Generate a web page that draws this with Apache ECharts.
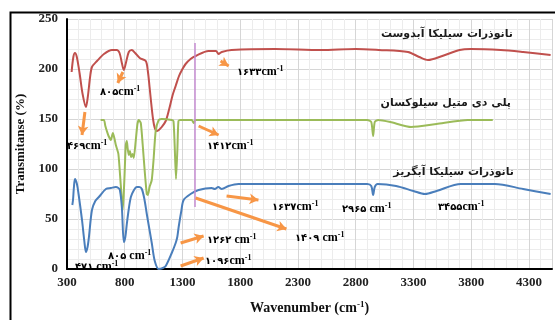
<!DOCTYPE html>
<html>
<head>
<meta charset="utf-8">
<script src="https://cdn.jsdelivr.net/npm/echarts@6/dist/echarts.min.js"></script>
<style>
  html, body { margin: 0; padding: 0; background: #fff; }
  #chart { width: 555px; height: 320px; }
</style>
</head>
<body>
<div id="chart"></div>
<script>
// x ticks
const xTicks = [300, 800, 1300, 1800, 2300, 2800, 3300, 3800, 4300];

// نانوذرات سیلیکا آبدوست (red)
const hydrophilic = [
  [340, 197], [355, 212], [369, 216], [385, 212], [410, 195], [435, 175], [464, 162], [480, 172],
  [500, 192], [516, 202], [560, 208], [620, 215], [689, 219], [730, 219], [755, 216], [775, 206],
  [792, 199], [810, 206], [835, 217], [861, 219], [890, 216], [930, 211], [982, 208], [1000, 198],
  [1015, 182], [1030, 165], [1045, 150], [1060, 141], [1077, 138], [1095, 139], [1120, 142],
  [1155, 148], [1185, 160], [1215, 174], [1241, 183], [1270, 193], [1300, 200], [1327, 205],
  [1370, 210], [1414, 213], [1526, 218], [1590, 218], [1612, 215], [1640, 217],
  [1725, 219], [2100, 220], [2500, 219], [2800, 220], [3000, 219], [3253, 217], [3350, 212],
  [3426, 209], [3550, 213], [3700, 219], [3797, 220], [4056, 219], [4250, 217], [4488, 214]
];

// پلی دی متیل سیلوکسان (green)
const pdms = [
  [591, 149], [620, 149], [632, 143], [645, 138], [660, 133], [680, 129], [690, 133], [697, 136],
  [710, 131], [723, 124], [745, 115], [765, 85], [783, 59], [797, 90], [809, 124], [818, 128],
  [826, 120], [835, 114], [845, 118], [855, 112], [868, 115], [878, 111], [895, 128], [910, 145],
  [922, 149], [939, 146], [955, 125], [975, 95], [991, 75], [1000, 74], [1015, 82], [1034, 89],
  [1050, 110], [1068, 138], [1094, 149], [1120, 150], [1207, 149], [1222, 148], [1232, 125],
  [1244, 90], [1256, 120], [1265, 148], [1280, 149], [1380, 149], [1397, 146], [1412, 149],
  [1500, 149], [2900, 149], [2935, 147], [2951, 133], [2965, 147], [2994, 149], [3100, 147],
  [3280, 142], [3500, 145], [3771, 149], [3987, 149]
];

// نانوذرات سیلیکا آبگریز (blue)
const hydrophobic = [
  [346, 64], [352, 69], [360, 82], [369, 90], [386, 85], [400, 75], [430, 49], [450, 28],
  [464, 17], [478, 22], [490, 32], [516, 59], [545, 68], [576, 72], [637, 80], [680, 81],
  [723, 82], [745, 81], [758, 79], [775, 62], [792, 27], [805, 32], [818, 45], [835, 60],
  [853, 72], [880, 79], [904, 82], [925, 82], [948, 80], [970, 70], [991, 55], [1034, 26],
  [1060, 8], [1094, 0], [1130, 1], [1155, 3], [1207, 16], [1241, 26], [1255, 32], [1267, 42],
  [1290, 58], [1310, 69], [1370, 75], [1440, 79], [1552, 81], [1580, 80], [1610, 82], [1640, 80],
  [1699, 83], [1785, 85], [2000, 85], [2500, 85], [2900, 85], [2935, 83], [2951, 74], [2965, 82],
  [2990, 85], [3150, 83], [3300, 78], [3400, 75], [3500, 78], [3711, 85], [4005, 85], [4250, 80],
  [4488, 75]
];

// arrows [from, to] in data units
const redArrows = [
  [[784, 197], [740, 186]],
  [[455, 157], [430, 134]],
  [[1630, 208], [1700, 203]],
  [[1440, 143], [1613, 134]]
];
const blueArrows = [
  [[1682, 73], [1958, 69]],
  [[1414, 71], [2200, 40]],
  [[1284, 26], [1483, 33]],
  [[1284, 3], [1483, 11]]
];
const markerLine = [[1409, 226], [1409, 62]];

// peak labels: [x px, y px, digits, gap]
const peakLabels = [
  [100, 93, '۸۰۵', ''],
  [67, 147, '۴۶۹', ''],
  [237, 73, '۱۶۳۳', ''],
  [207, 147, '۱۴۱۲', ''],
  [272, 208, '۱۶۳۷', ''],
  [342, 210, '۲۹۶۵', ' '],
  [438, 208, '۳۴۵۵', ''],
  [295, 239, '۱۴۰۹', ' '],
  [207, 241, '۱۲۶۲', ' '],
  [205, 262, '۱۰۹۶', ''],
  [108, 257, '۸۰۵', ' '],
  [75, 268, '۴۷۱', ' ']
];
const seriesLabels = [
  [513, 37, 'نانوذرات سیلیکا آبدوست'],
  [511, 106, 'پلی دی متیل سیلوکسان'],
  [514, 175, 'نانوذرات سیلیکا آبگریز']
];

const chart = echarts.init(document.getElementById('chart'));
const serif = '"Liberation Serif", "DejaVu Serif", serif';
const orange = '#f79646';

const arrowMark = arrows => ({
  silent: true,
  symbol: ['none', 'arrow'],
  symbolSize: [8, 9],
  lineStyle: { color: orange, width: 3, type: 'solid' },
  label: { show: false },
  data: arrows.map(a => [{ coord: a[0] }, { coord: a[1] }])
});

const rich = {
  d: { fontFamily: '"DejaVu Sans", sans-serif', fontSize: 10, fontWeight: 'bold', color: '#222' },
  c: { fontFamily: serif, fontSize: 12, fontWeight: 'bold', color: '#222' },
  s: { fontFamily: serif, fontSize: 8, fontWeight: 'bold', color: '#222', verticalAlign: 'top', padding: [0, 0, 6, 0] }
};

const graphics = [
  {
    type: 'rect', left: 8, top: 10, z: -1, silent: true,
    shape: { width: 600, height: 400 },
    style: { fill: 'none', stroke: '#000', lineWidth: 2 }
  }
];
peakLabels.forEach(p => {
  graphics.push({
    type: 'text', left: p[0], top: p[1] - 8, z: 10, silent: true,
    style: { text: '{d|' + p[2] + '}{c|' + p[3] + 'cm}{s|-1}', rich: rich }
  });
});
seriesLabels.forEach(p => {
  graphics.push({
    type: 'text', right: 555 - p[0], top: p[1] - 8, z: 10, silent: true,
    style: {
      text: p[2], fontFamily: '"DejaVu Sans", sans-serif', fontSize: 11,
      fontWeight: 'bold', fill: '#1a1a1a'
    }
  });
});

const option = {
  animation: false,
  backgroundColor: '#fff',
  grid: { left: 67, right: 1, top: 19, bottom: 46 },
  xAxis: {
    type: 'value',
    min: 300,
    max: 4500,
    interval: 500,
    name: 'Wavenumber (cm{s|-1})',
    nameLocation: 'middle',
    nameGap: 31,
    nameTextStyle: {
      fontFamily: serif, fontSize: 14, fontWeight: 'bold', color: '#111',
      rich: { s: { fontFamily: serif, fontSize: 9, fontWeight: 'bold', color: '#111', verticalAlign: 'top', padding: [0, 0, 7, 0] } }
    },
    axisLine: { show: true, onZero: false, lineStyle: { color: '#000', width: 2 } },
    axisTick: { show: false },
    axisLabel: {
      margin: 7, fontFamily: serif, fontSize: 13, fontWeight: 'bold', color: '#222',
      formatter: v => (xTicks.indexOf(v) >= 0 ? v : '')
    },
    splitLine: { show: true, lineStyle: { color: '#d6d6d6', width: 1 } },
    minorTick: { show: false, splitNumber: 5 },
    minorSplitLine: { show: true, lineStyle: { color: '#ececec', width: 1 } }
  },
  yAxis: {
    type: 'value',
    min: 0,
    max: 250,
    interval: 50,
    name: 'Transmitanse (%)',
    nameLocation: 'middle',
    nameGap: 38,
    nameTextStyle: { fontFamily: serif, fontSize: 13, fontWeight: 'bold', color: '#111' },
    axisLine: { show: true, lineStyle: { color: '#000', width: 2 } },
    axisTick: { show: false },
    axisLabel: { margin: 9, fontFamily: serif, fontSize: 13, fontWeight: 'bold', color: '#222' },
    splitLine: { show: true, lineStyle: { color: '#d6d6d6', width: 1 } },
    minorTick: { show: false, splitNumber: 5 },
    minorSplitLine: { show: true, lineStyle: { color: '#ececec', width: 1 } }
  },
  series: [
    {
      name: 'hydrophilic',
      type: 'line',
      data: hydrophilic,
      smooth: 0.3,
      showSymbol: false,
      lineStyle: { color: '#c0504d', width: 2 },
      markLine: arrowMark(redArrows)
    },
    {
      name: 'pdms',
      type: 'line',
      data: pdms,
      smooth: 0.2,
      showSymbol: false,
      lineStyle: { color: '#9bbb59', width: 2 },
      markLine: {
        silent: true,
        symbol: ['none', 'none'],
        lineStyle: { color: '#c58bd0', width: 1.5, type: 'solid' },
        label: { show: false },
        data: [[{ coord: markerLine[0] }, { coord: markerLine[1] }]]
      }
    },
    {
      name: 'hydrophobic',
      type: 'line',
      data: hydrophobic,
      smooth: 0.3,
      showSymbol: false,
      lineStyle: { color: '#4a7ebb', width: 2 },
      markLine: arrowMark(blueArrows)
    }
  ],
  graphic: graphics
};

chart.setOption(option);
</script>
</body>
</html>
